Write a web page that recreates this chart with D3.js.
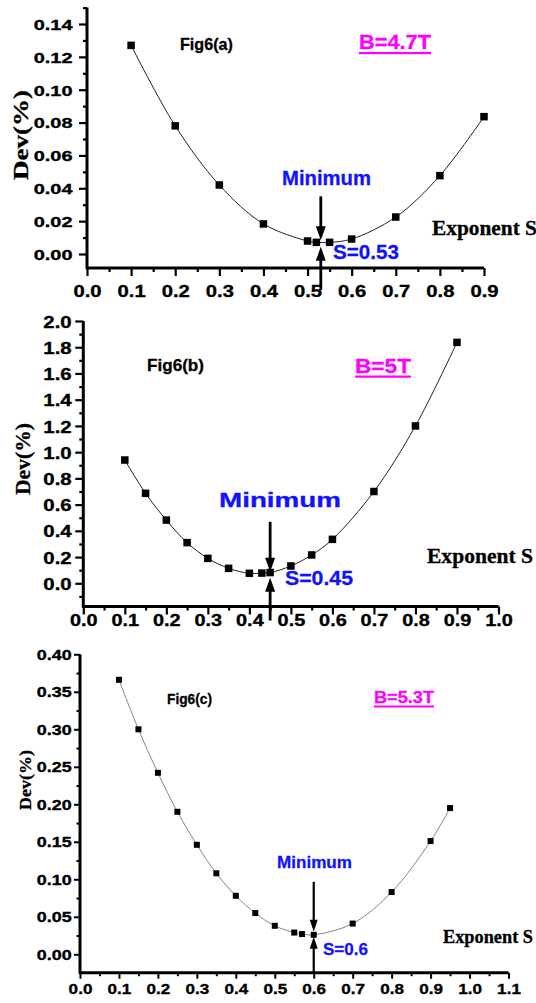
<!DOCTYPE html>
<html><head><meta charset="utf-8">
<script src="https://cdn.jsdelivr.net/npm/d3@7"></script>
<style>body{margin:0;background:#fff} svg{display:block}</style>
</head><body><svg id="c" width="536" height="1003"></svg>
<script>
// ---------- data ----------
const sA   = [0.1, 0.2, 0.3, 0.4, 0.5, 0.52, 0.55, 0.6, 0.7, 0.8, 0.9];
const devA = [0.127, 0.078, 0.042, 0.0183, 0.0079, 0.0071, 0.0071, 0.0091, 0.0225, 0.0477, 0.0836];
const sB   = [0.1, 0.15, 0.2, 0.25, 0.3, 0.35, 0.4, 0.43, 0.45, 0.5, 0.55, 0.6, 0.7, 0.8, 0.9];
const devB = [0.94, 0.686, 0.482, 0.31, 0.19, 0.114, 0.076, 0.078, 0.082, 0.132, 0.216, 0.335, 0.70, 1.20, 1.837];
const sC   = [0.1, 0.15, 0.2, 0.25, 0.3, 0.35, 0.4, 0.45, 0.5, 0.55, 0.57, 0.6, 0.7, 0.8, 0.9, 0.95];
const devC = [0.366, 0.300, 0.242, 0.190, 0.146, 0.108, 0.078, 0.055, 0.038, 0.029, 0.027, 0.026, 0.041, 0.083, 0.151, 0.195];

const xTicksA = [0, 0.1, 0.2, 0.3, 0.4, 0.5, 0.6, 0.7, 0.8, 0.9];
const yTicksA = [0, 0.02, 0.04, 0.06, 0.08, 0.10, 0.12, 0.14];
const xTicksB = [0, 0.1, 0.2, 0.3, 0.4, 0.5, 0.6, 0.7, 0.8, 0.9, 1.0];
const yTicksB = [0, 0.2, 0.4, 0.6, 0.8, 1.0, 1.2, 1.4, 1.6, 1.8, 2.0];
const xTicksC = [0, 0.1, 0.2, 0.3, 0.4, 0.5, 0.6, 0.7, 0.8, 0.9, 1.0, 1.1];
const yTicksC = [0, 0.05, 0.10, 0.15, 0.20, 0.25, 0.30, 0.35, 0.40];

const figTitles   = ["Fig6(a)", "Fig6(b)", "Fig6(c)"];
const fieldLabels = ["B=4.7T", "B=5T", "B=5.3T"];
const minimumS    = [0.53, 0.45, 0.6];
const minimumDev  = [0.0071, 0.080, 0.026];
const minLabels   = ["S=0.53", "S=0.45", "S=0.6"];
const xTitle = "Exponent S";
const yTitle = "Dev(%)";
const minText = "Minimum";

// ---------- drawing ----------
const svg = d3.select("#c");
const SANS = "'Liberation Sans', Arial, sans-serif";
const SERIF = "'Liberation Serif', 'Times New Roman', serif";
const BLUE = "#1212ff", MAG = "#ff00ff";

function txt(g, s, o) {
  const col = o.color || "#000";
  const t = g.append("text").text(s)
    .attr("font-family", o.family || SANS)
    .attr("font-weight", "bold")
    .attr("font-size", o.size)
    .attr("fill", col)
    .attr("stroke", col).attr("stroke-width", o.sw == null ? 0.3 : o.sw)
    .attr("text-anchor", o.anchor || "start");
  if (o.rotate) {
    t.attr("transform", `translate(${o.x},${o.y}) rotate(-90)`);
  } else {
    t.attr("x", o.x).attr("y", o.y);
  }
  if (o.len) t.attr("textLength", o.len).attr("lengthAdjust", "spacingAndGlyphs");
  return t;
}

function minors(major, step, lo, hi) {
  const out = [];
  const eps = 1e-9;
  for (let v = major[0] - step; v >= lo - eps; v -= step) out.push(v);
  for (let i = 0; i < major.length - 1; i++) out.push((major[i] + major[i + 1]) / 2);
  for (let v = major[major.length - 1] + step; v <= hi + eps; v += step) out.push(v);
  return out;
}

function panel(c) {
  const g = svg.append("g");
  const x = d3.scaleLinear().domain([0, c.xMax]).range([c.x0, c.xEnd]);
  const yb = d3.scaleLinear().domain(c.yRef).range(c.yRefPx);
  const yLo = yb.invert(c.axisY);
  const y = d3.scaleLinear().domain([yLo, c.yTop]).range([c.axisY, yb(c.yTop)]);

  // axes lines
  g.append("line").attr("x1", c.x0).attr("x2", c.x0).attr("y1", c.axisY + 1).attr("y2", y(c.yTop))
    .attr("stroke", "#000").attr("stroke-width", c.aw);
  g.append("line").attr("x1", c.x0 - 1).attr("x2", c.xEnd).attr("y1", c.axisY).attr("y2", c.axisY)
    .attr("stroke", "#000").attr("stroke-width", c.aw);

  const styleAxis = s => {
    s.select(".domain").remove();
    s.selectAll(".tick line").attr("stroke", "#000").attr("stroke-width", c.tw);
  };

  // x axis
  const xMin = minors(c.xTicks, c.xTicks[1] / 2, 0, c.xMax).filter(v => v > 0 && v < c.xMax);
  g.append("g").attr("transform", `translate(0,${c.axisY})`)
    .call(d3.axisBottom(x).tickValues(xMin).tickSize(c.minLen).tickFormat(""))
    .call(styleAxis);
  const gx = g.append("g").attr("transform", `translate(0,${c.axisY})`)
    .call(d3.axisBottom(x).tickValues(c.xTicks).tickSize(c.majLen).tickFormat(d3.format(".1f")))
    .call(styleAxis);
  gx.selectAll("text")
    .attr("font-family", SANS).attr("font-weight", "bold").attr("font-size", c.xfs).attr("fill", "#000")
    .attr("stroke", "#000").attr("stroke-width", 0.35)
    .attr("y", c.xLabY).attr("dy", 0)
    .attr("transform", `scale(${c.xsx},1)`);

  // y axis
  const ystep = c.yTicks[1] - c.yTicks[0];
  const yMin = minors(c.yTicks, ystep / 2, yLo, c.yTop);
  g.append("g").attr("transform", `translate(${c.x0},0)`)
    .call(d3.axisLeft(y).tickValues(yMin).tickSize(c.minLen).tickFormat(""))
    .call(styleAxis);
  const gy = g.append("g").attr("transform", `translate(${c.x0},0)`)
    .call(d3.axisLeft(y).tickValues(c.yTicks).tickSize(c.majLen).tickFormat(d3.format(c.yFmt)))
    .call(styleAxis);
  gy.selectAll("text")
    .attr("font-family", SANS).attr("font-weight", "bold").attr("font-size", c.yfs).attr("fill", "#000")
    .attr("stroke", "#000").attr("stroke-width", 0.35)
    .attr("x", -c.yLabOff / c.ysx).attr("dy", "0.36em")
    .attr("transform", `scale(${c.ysx},1)`);

  // series line + markers
  const pts = c.s.map((v, i) => [v, c.d[i]]);
  g.append("path").datum(pts)
    .attr("d", d3.line().x(p => x(p[0])).y(p => y(p[1])).curve(d3.curveCatmullRom))
    .attr("fill", "none").attr("stroke", c.lineColor).attr("stroke-width", c.lw);
  g.selectAll("rect.m").data(pts).join("rect")
    .attr("x", p => x(p[0]) - c.ms / 2).attr("y", p => y(p[1]) - c.ms / 2)
    .attr("width", c.ms).attr("height", c.ms).attr("fill", "#000");

  // arrows
  const ax = x(c.minS);
  const yp = y(c.minD);
  const hw = c.hw, hh = c.hh;
  const dTip = yp - c.dGap, dStart = dTip - c.dLen;
  g.append("line").attr("x1", ax).attr("x2", ax).attr("y1", dStart).attr("y2", dTip - hh + 1)
    .attr("stroke", "#000").attr("stroke-width", c.arw);
  g.append("path").attr("d", `M${ax - hw},${dTip - hh}L${ax + hw},${dTip - hh}L${ax},${dTip}Z`).attr("fill", "#000");
  const uTip = yp + c.uGap, uEnd = c.axisY + c.uExt;
  g.append("line").attr("x1", ax).attr("x2", ax).attr("y1", uTip + hh - 1).attr("y2", uEnd)
    .attr("stroke", "#000").attr("stroke-width", c.arw);
  g.append("path").attr("d", `M${ax - hw},${uTip + hh}L${ax + hw},${uTip + hh}L${ax},${uTip}Z`).attr("fill", "#000");

  // texts
  txt(g, c.title, c.tTitle);
  txt(g, c.field, Object.assign({color: MAG}, c.tField));
  g.append("rect").attr("x", c.tField.x).attr("y", c.tField.uy).attr("width", c.tField.len)
    .attr("height", c.tField.uh).attr("fill", MAG);
  txt(g, minText, Object.assign({color: BLUE}, c.tMin));
  txt(g, c.minLabel, Object.assign({color: BLUE}, c.tS));
  txt(g, xTitle, Object.assign({family: SERIF}, c.tX));
  txt(g, yTitle, Object.assign({family: SERIF, rotate: true, anchor: "middle"}, c.tY));
}

panel({
  s: sA, d: devA, xTicks: xTicksA, yTicks: yTicksA, xMax: 0.9, yFmt: ".2f",
  x0: 87, xEnd: 484, axisY: 268, yRef: [0, 0.14], yRefPx: [254, 24], yTop: 0.15,
  aw: 3, tw: 2.2, majLen: 8, minLen: 4,
  xfs: 17, xsx: 1.19, xLabY: 29, yfs: 15, ysx: 1.33, yLabOff: 14.5,
  lineColor: "#222", lw: 1, ms: 7.5,
  minS: minimumS[0], minD: minimumDev[0], hw: 5, hh: 14, arw: 2.8,
  dGap: 2, dLen: 44, uGap: 4.5, uExt: 22,
  title: figTitles[0], field: fieldLabels[0], minLabel: minLabels[0],
  tTitle: {x: 180, y: 50, size: 17, len: 53},
  tField: {x: 359, y: 49, size: 21, len: 72, uy: 52, uh: 2.2},
  tMin: {x: 282, y: 185, size: 20, len: 89},
  tS: {x: 333, y: 259, size: 20, len: 66},
  tX: {x: 432, y: 235, size: 20, len: 105},
  tY: {x: 28, y: 135, size: 21, len: 90}
});

panel({
  s: sB, d: devB, xTicks: xTicksB, yTicks: yTicksB, xMax: 1.0, yFmt: ".1f",
  x0: 83.3, xEnd: 498.5, axisY: 606.5, yRef: [0, 2.0], yRefPx: [583.3, 321], yTop: 2.0,
  aw: 3, tw: 2.2, majLen: 8, minLen: 4,
  xfs: 17, xsx: 1.17, xLabY: 20, yfs: 17, ysx: 1.2, yLabOff: 11.6,
  lineColor: "#222", lw: 1, ms: 7.5,
  minS: minimumS[1], minD: minimumDev[1], hw: 5, hh: 14, arw: 2.8,
  dGap: 1, dLen: 50, uGap: 5, uExt: 14,
  title: figTitles[1], field: fieldLabels[1], minLabel: minLabels[1],
  tTitle: {x: 147, y: 371, size: 17, len: 57},
  tField: {x: 355, y: 373, size: 21, len: 56, uy: 375.5, uh: 2.2},
  tMin: {x: 219, y: 507, size: 20, len: 122},
  tS: {x: 285, y: 585, size: 20, len: 68},
  tX: {x: 427, y: 563, size: 20, len: 106},
  tY: {x: 30, y: 459, size: 20, len: 72}
});

panel({
  s: sC, d: devC, xTicks: xTicksC, yTicks: yTicksC, xMax: 1.1, yFmt: ".2f",
  x0: 80, xEnd: 508.5, axisY: 972.7, yRef: [0, 0.40], yRefPx: [954.3, 654.3], yTop: 0.40,
  aw: 3, tw: 2, majLen: 6, minLen: 3.5,
  xfs: 15, xsx: 1.14, xLabY: 21.5, yfs: 14, ysx: 1.28, yLabOff: 8.3,
  lineColor: "#777", lw: 0.9, ms: 6,
  minS: minimumS[2], minD: minimumDev[2], hw: 4, hh: 12, arw: 2.2,
  dGap: 3, dLen: 50, uGap: 2, uExt: 0,
  title: figTitles[2], field: fieldLabels[2], minLabel: minLabels[2],
  tTitle: {x: 167, y: 704, size: 14, len: 45},
  tField: {x: 374, y: 703, size: 17, len: 60, uy: 705.5, uh: 2},
  tMin: {x: 277, y: 868, size: 17, len: 75},
  tS: {x: 323, y: 955, size: 17, len: 45},
  tX: {x: 443, y: 943, size: 18, len: 90},
  tY: {x: 31, y: 780, size: 17, len: 60}
});
</script>
</body></html>
